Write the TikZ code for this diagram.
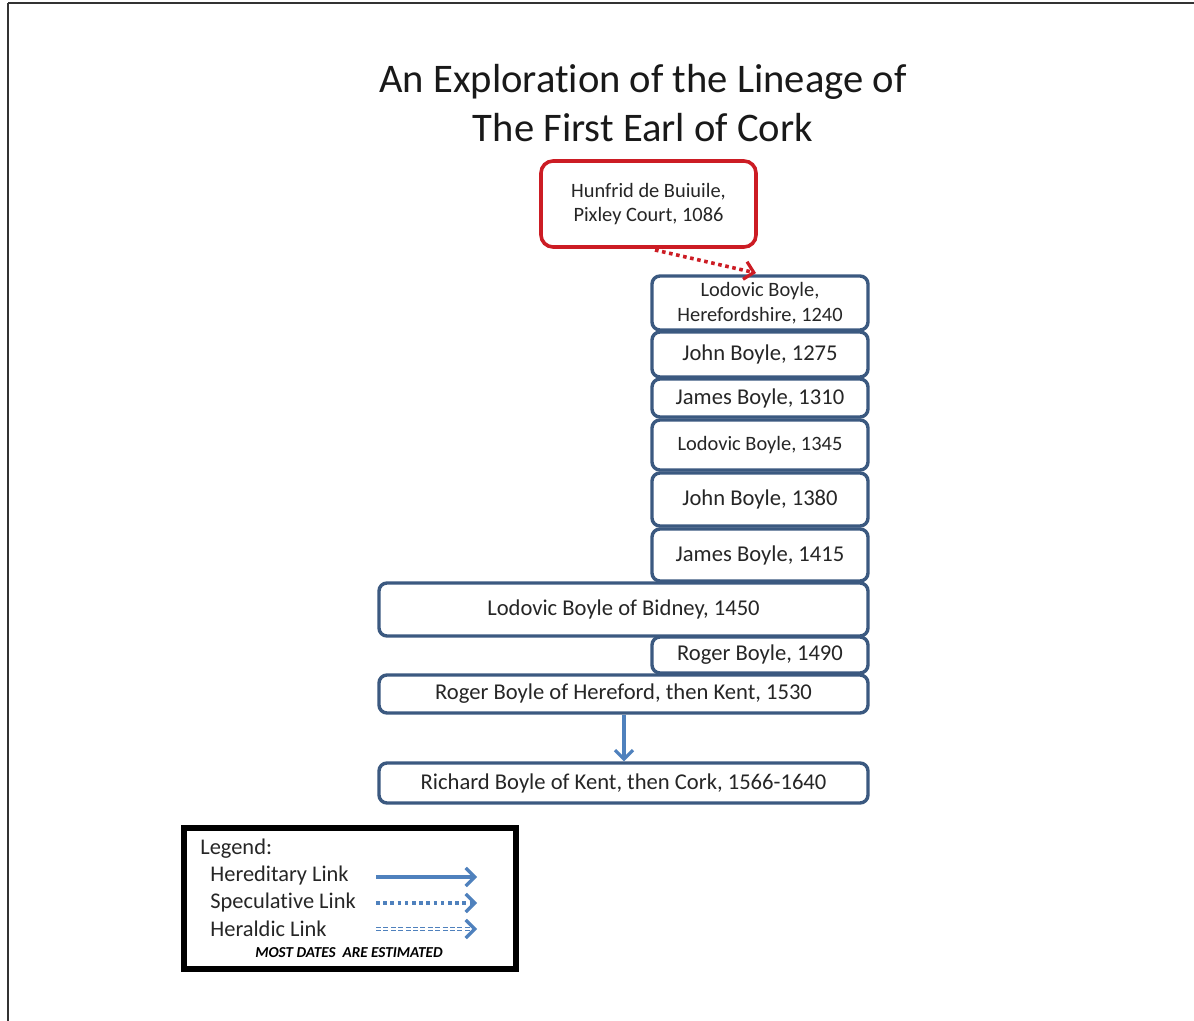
\documentclass[tikz,border=0pt]{standalone}
\usepackage{fontspec}
\setmainfont{Carlito}[Ligatures=NoCommon]
\usetikzlibrary{arrows.meta,fit}
\definecolor{boxline}{RGB}{59,89,128}
\definecolor{redline}{RGB}{204,28,36}
\definecolor{linkblue}{RGB}{79,129,189}
\tikzset{
  pbox/.style={draw=boxline, line width=1.7pt, rounded corners=4pt, fill=white,
    inner sep=0pt},
  rootbox/.style={pbox, draw=redline, line width=1.8pt, rounded corners=6pt},
  boxtext/.style={align=center, inner sep=0pt, font=\fontsize{11.3}{13}\selectfont, text=black!85},
  smalltext/.style={boxtext, font=\fontsize{10.2}{12.3}\selectfont},
  barb/.style={-{Straight Barb[length=4.5pt,width=9pt,line width=1.6pt]}},
  hereditary/.style={barb, draw=linkblue, line width=1.8pt},
  speculative/.style={barb, line width=1.8pt, dash pattern=on 1.8pt off 1.8pt},
  heraldic/.style={barb, draw=linkblue, double=white, double distance=0.8pt,
    line width=0.5pt, dash pattern=on 2.5pt off 1.2pt},
  legtext/.style={anchor=west, inner sep=0pt, font=\fontsize{11.2}{13}\selectfont, text=black!85}
}
% a box spanning two corners, with its text centred inside
% #1 box style, #2 name, #3 corners, #4 text style, #5 text
\newcommand\lineagebox[5][pbox]{%
  \node[#1, fit={#3}] (#2) {};
  \node[#4] (#2-text) at (#2.center) {#5};
}
\begin{document}
\begin{tikzpicture}[x=0.5pt,y=-0.5pt]
  \useasboundingbox[fill=white] (0,0) rectangle (1194,1021);
  % page frame (top and left edges)
  \draw[line width=1pt, black!80] (8,3) -- (1194,3);
  \draw[line width=1pt, black!80] (8,3) -- (8,1021);

  % title
  \node[font=\fontsize{20.3}{24.5}\selectfont, align=center, text=black!90] (title) at (643,103)
    {An Exploration of the Lineage of\\The First Earl of Cork};

  % lineage boxes
  \lineagebox[rootbox]{hunfrid}{(541,161) (756,247)}{smalltext}{Hunfrid de Buiuile,\\Pixley Court, 1086}
  \lineagebox{lod1240}{(652,276) (868,330)}{smalltext}{Lodovic Boyle,\\Herefordshire, 1240}
  \lineagebox{john1275}{(652,332) (868,377)}{boxtext}{John Boyle, 1275}
  \lineagebox{james1310}{(652,379) (868,417)}{boxtext}{James Boyle, 1310}
  \lineagebox{lod1345}{(652,420) (868,470)}{smalltext}{Lodovic Boyle, 1345}
  \lineagebox{john1380}{(652,473) (868,526)}{boxtext}{John Boyle, 1380}
  \lineagebox{james1415}{(652,529) (868,581)}{boxtext}{James Boyle, 1415}
  \lineagebox{lod1450}{(379,583) (868,636)}{boxtext}{Lodovic Boyle of Bidney, 1450}
  \lineagebox{roger1490}{(652,637) (868,673)}{boxtext}{Roger Boyle, 1490}
  \lineagebox{roger1530}{(379,675) (868,713)}{boxtext}{Roger Boyle of Hereford, then Kent, 1530}
  \lineagebox{richard}{(379,763) (868,803)}{boxtext}{Richard Boyle of Kent, then Cork, 1566-1640}

  % links
  \coordinate (specstart) at (655,250);
  \coordinate (specend) at (756,273);
  \draw[speculative, draw=redline] (specstart) -- (specend);
  \draw[hereditary] (roger1530.south -| 624,0) -- (richard.north -| 624,0);

  % legend
  \node[draw=black, line width=2.6pt, fit={(184,828) (516,969)}, inner sep=0pt] (legend) {};
  \node[legtext] (legtitle) at (200,849) {Legend:};
  \node[legtext] (leghered) at (210,876) {Hereditary Link};
  \node[legtext] (legspec) at (210,903) {Speculative Link};
  \node[legtext] (legher) at (210,929) {Heraldic Link};
  \node[inner sep=0pt, font=\fontsize{7.6}{9}\bfseries\itshape\selectfont] (legnote) at (349,953)
    {MOST DATES\ \ ARE ESTIMATED};
  \coordinate (a1s) at (376,877); \coordinate (a1e) at (477,877);
  \coordinate (a2s) at (376,903); \coordinate (a2e) at (477,903);
  \coordinate (a3s) at (376,929); \coordinate (a3e) at (477,929);
  \draw[hereditary] (a1s) -- (a1e);
  \draw[speculative, draw=linkblue] (a2s) -- (a2e);
  \draw[heraldic] (a3s) -- (a3e);
\end{tikzpicture}
\end{document}
